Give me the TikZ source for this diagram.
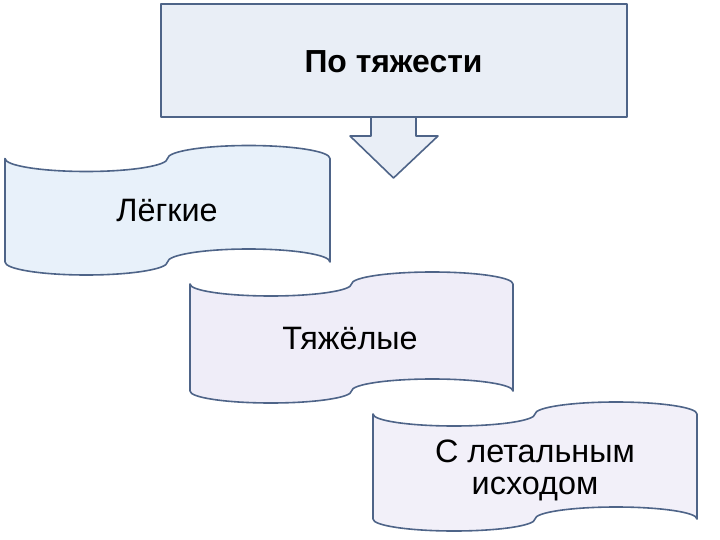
\documentclass[tikz,border=0pt]{standalone}
\usepackage{fontspec}
\setmainfont{Liberation Sans}
\definecolor{edge}{HTML}{4E6488}
\definecolor{topfill}{HTML}{E9EEF6}
\definecolor{fillA}{HTML}{E8F1FA}
\definecolor{fillB}{HTML}{EFEDF8}
\definecolor{fillC}{HTML}{F2F0F9}
\tikzset{
  shapeline/.style={draw=edge, line width=1.6bp, line join=round},
  lbl/.style={font=\fontsize{32.5}{32}\selectfont, align=center, inner sep=0pt, anchor=base}
}
\newcommand{\wavebox}[6]{% x0, w, yt, yb, a, fill
  \pgfmathsetmacro{\wq}{#2/4}
  \path[shapeline, fill=#6]
    (#1,#3) arc[start angle=180, end angle=0, x radius=\wq, y radius=#5]
            arc[start angle=180, end angle=360, x radius=\wq, y radius=#5]
    -- (#1+#2,#4) arc[start angle=0, end angle=-180, x radius=\wq, y radius=#5]
            arc[start angle=0, end angle=180, x radius=\wq, y radius=#5]
    -- cycle;
}
\begin{document}
\begin{tikzpicture}[x=1bp,y=-1bp]
\useasboundingbox (0,0) rectangle (720,540);
% arrow below title box
\path[shapeline, fill=topfill]
  (371,112) -- (371,136) -- (350,136) -- (393.5,178) -- (438,136) -- (416,136) -- (416,112) -- cycle;
% title box
\path[shapeline, fill=topfill] (161,4) rectangle (627,117);
\node[lbl, font=\fontsize{32}{32}\selectfont\bfseries] (title) at (393.5,73) {По тяжести};
% wave boxes
\wavebox{5}{325}{158.5}{262}{13}{fillA}
\node[lbl] (light) at (167,222) {Лёгкие};
\wavebox{190}{323}{284}{391}{12}{fillB}
\node[lbl] (heavy) at (350,349) {Тяжёлые};
\wavebox{373}{324}{414}{519}{12}{fillC}
\node[lbl] (lethal) at (535,494) {С летальным\\исходом};
\end{tikzpicture}
\end{document}
